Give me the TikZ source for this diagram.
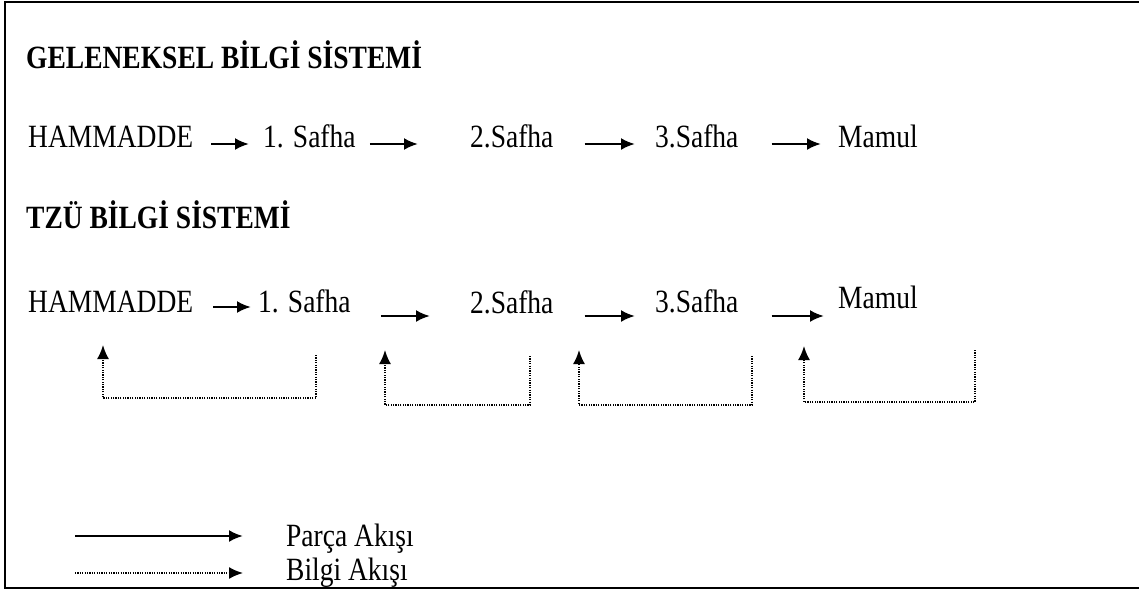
\documentclass[tikz,border=0pt]{standalone}
\usepackage{fontspec}
\setmainfont{Liberation Serif}
\usetikzlibrary{arrows.meta}
\newcommand{\tall}[1]{\scalebox{1}[1.18]{#1}}
\begin{document}
\begin{tikzpicture}[x=1pt,y=-1pt,
  txt/.style={anchor=base west,inner sep=0pt,font=\fontsize{27.5}{33}\selectfont},
  ttl/.style={txt,font=\fontsize{27.5}{33}\selectfont\bfseries},
  parca/.style={line width=2.4pt,-{Latex[length=14pt,width=12pt]}},
  bilgi/.style={line width=1.8pt,dash pattern=on 1.2pt off 1.2pt,-{Latex[length=14pt,width=12pt]}},
  frame/.style={line width=2pt}]
\useasboundingbox (0,0) rectangle (1139,590);
\draw[frame] (1139,2) -- (5,2) -- (5,588) -- (1139,588);
% first system
\node[ttl] (t1) at (26,68) {\tall{GELENEKSEL BİLGİ SİSTEMİ}};
\node[txt] (a1) at (28,147) {\tall{HAMMADDE}};
\node[txt] (b1) at (263,147) {\tall{1. Safha}};
\node[txt] (c1) at (470,147) {\tall{2.Safha}};
\node[txt] (d1) at (655,147) {\tall{3.Safha}};
\node[txt] (e1) at (838,147) {\tall{Mamul}};
\draw[parca] ([shift={(18,-3)}]a1.base east) -- ([shift={(-14,-3)}]b1.base west);
\draw[parca] ([shift={(14,-3)}]b1.base east) -- ([shift={(-52,-3)}]c1.base west);
\draw[parca] ([shift={(31,-3)}]c1.base east) -- ([shift={(-20,-3)}]d1.base west);
\draw[parca] ([shift={(33,-3)}]d1.base east) -- ([shift={(-17,-3)}]e1.base west);
% second system
\node[ttl] (t2) at (26,228) {\tall{TZÜ BİLGİ SİSTEMİ}};
\node[txt] (a2) at (28,312) {\tall{HAMMADDE}};
\node[txt] (b2) at (258,312) {\tall{1. Safha}};
\node[txt] (c2) at (470,313) {\tall{2.Safha}};
\node[txt] (d2) at (655,312) {\tall{3.Safha}};
\node[txt] (e2) at (838,308) {\tall{Mamul}};
\draw[parca] ([shift={(20,-5)}]a2.base east) -- ([shift={(-7,-5)}]b2.base west);
\draw[parca] ([shift={(30,4)}]b2.base east) -- ([shift={(-40,3)}]c2.base west);
\draw[parca] ([shift={(31,3)}]c2.base east) -- ([shift={(-20,4)}]d2.base west);
\draw[parca] ([shift={(33,4)}]d2.base east) -- ([shift={(-14,8)}]e2.base west);
% feedback
\coordinate (f1a) at (316,355); \coordinate (f1b) at (103,345);
\coordinate (f2a) at (530,356); \coordinate (f2b) at (385,350);
\coordinate (f3a) at (752,356); \coordinate (f3b) at (579,350);
\coordinate (f4a) at (975,350); \coordinate (f4b) at (804,346);
\draw[bilgi] (f1a) -- (316,398) -| (f1b);
\draw[bilgi] (f2a) -- (530,405) -| (f2b);
\draw[bilgi] (f3a) -- (752,405) -| (f3b);
\draw[bilgi] (f4a) -- (975,402) -| (f4b);
% legend
\node[txt] (lp) at (286,546) {\tall{Parça Akışı}};
\node[txt] (lb) at (286,580) {\tall{Bilgi Akışı}};
\coordinate (lp0) at (75,536);
\coordinate (lb0) at (75,573);
\draw[parca] (lp0) -- ([xshift=-43]lp.west |- lp0);
\draw[bilgi] (lb0) -- ([xshift=-43]lb.west |- lb0);
\end{tikzpicture}
\end{document}
